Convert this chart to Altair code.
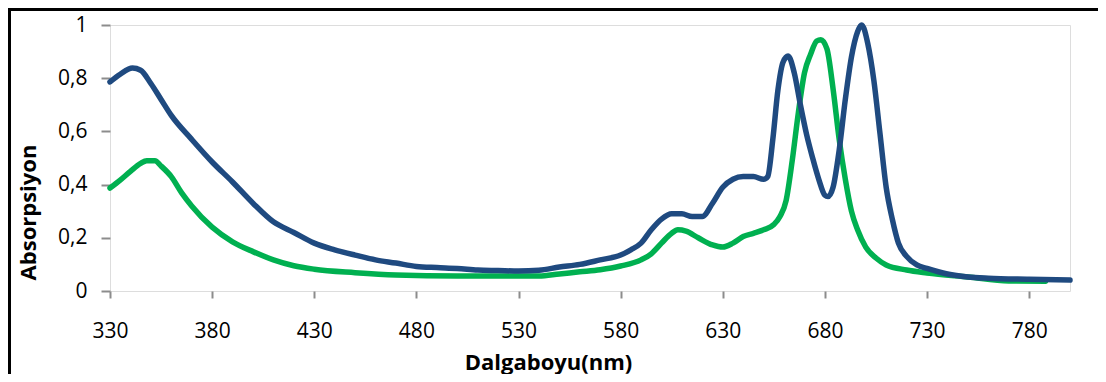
import altair as alt
import pandas as pd

# --- data ---
blue_nm = [330, 335, 341, 345, 350, 355, 360, 370, 380, 390, 400, 410, 420, 430, 440,
           450, 460, 470, 480, 490, 500, 510, 520, 530, 540, 550, 560, 570, 580, 585,
           590, 595, 600, 605, 610, 615, 620, 625, 630, 635, 640, 645, 650, 652, 654.5,
           657, 659.5, 662, 665, 668, 671, 674, 677, 680, 681.5, 684, 687, 690, 693, 696,
           698, 701, 704, 707, 710, 713, 716, 720, 725, 730, 740, 750, 760, 780, 800]
blue_abs = [0.786, 0.815, 0.838, 0.83, 0.78, 0.72, 0.66, 0.57, 0.485, 0.41, 0.33, 0.26, 0.22, 0.18, 0.155,
            0.135, 0.117, 0.105, 0.092, 0.088, 0.085, 0.079, 0.077, 0.075, 0.078, 0.09, 0.10, 0.117, 0.135, 0.155,
            0.18, 0.23, 0.27, 0.29, 0.29, 0.28, 0.28, 0.33, 0.39, 0.42, 0.43, 0.43, 0.42, 0.43, 0.57,
            0.755, 0.86, 0.883, 0.82, 0.70, 0.59, 0.50, 0.42, 0.36, 0.355, 0.39, 0.53, 0.72, 0.88, 0.975,
            1.0, 0.93, 0.79, 0.59, 0.39, 0.27, 0.18, 0.13, 0.098, 0.085, 0.064, 0.053, 0.048, 0.044, 0.041]

green_nm = [330, 335, 340, 345, 348, 352, 355, 360, 365, 370, 380, 390, 400, 410, 420,
            430, 450, 470, 500, 540, 550, 560, 570, 580, 590, 595, 600, 605, 608, 612,
            618, 625, 630, 635, 640, 645, 650, 655, 658, 661, 664, 667, 670, 673, 676,
            678, 681, 684, 687, 690, 693, 696, 700, 705, 710, 720, 730, 750, 770, 788]
green_abs = [0.387, 0.417, 0.45, 0.48, 0.49, 0.49, 0.47, 0.43, 0.37, 0.32, 0.24, 0.185, 0.148, 0.117, 0.095,
             0.082, 0.069, 0.06, 0.056, 0.056, 0.064, 0.072, 0.08, 0.094, 0.117, 0.14, 0.18, 0.217, 0.23, 0.225,
             0.2, 0.173, 0.165, 0.18, 0.205, 0.217, 0.23, 0.25, 0.28, 0.34, 0.49, 0.67, 0.82, 0.89, 0.94,
             0.945, 0.91, 0.76, 0.57, 0.42, 0.30, 0.23, 0.165, 0.124, 0.098, 0.079, 0.068, 0.053, 0.038, 0.037]

x_ticks = [330, 380, 430, 480, 530, 580, 630, 680, 730, 780]
y_ticks = [0, 0.2, 0.4, 0.6, 0.8, 1]

df = pd.concat([
    pd.DataFrame({"nm": green_nm, "abs": green_abs, "series": "green", "order": 0}),
    pd.DataFrame({"nm": blue_nm, "abs": blue_abs, "series": "blue", "order": 1}),
])

FONT = "Open Sans"

x = alt.X("nm:Q",
          scale=alt.Scale(domain=[330, 800], nice=False, zero=False),
          axis=alt.Axis(values=x_ticks, title="Dalgaboyu(nm)", grid=False, domain=False,
                        tickColor="#8c8c8c", tickWidth=2, tickSize=7,
                        labelFontSize=21, labelFont=FONT, labelColor="black", labelPadding=22,
                        labelFlush=False,
                        titleFont=FONT, titleFontSize=22, titleFontWeight="bold", titleColor="black",
                        titleX=438, titleY=78, titleBaseline="alphabetic", titleAlign="center"))
y = alt.Y("abs:Q",
          scale=alt.Scale(domain=[0, 1], nice=False),
          axis=alt.Axis(values=y_ticks, format="~g", labelExpr="replace(datum.label, '.', ',')",
                        title="Absorpsiyon", grid=False, domain=False,
                        tickColor="#8c8c8c", tickWidth=2, tickSize=9,
                        labelFontSize=21, labelFont=FONT, labelColor="black", labelPadding=14,
                        labelFlush=False,
                        titleFont=FONT, titleFontSize=22, titleFontWeight="bold", titleColor="black",
                        titleAngle=270, titleX=-82, titleY=187, titleBaseline="middle", titleAlign="center"))

lines = alt.Chart(df).mark_line(strokeWidth=5.5, interpolate="monotone", strokeCap="round").encode(
    x=x, y=y,
    color=alt.Color("series:N", scale=alt.Scale(domain=["green", "blue"], range=["#00B050", "#1F4A80"]),
                    legend=None),
    order=alt.Order("order:Q"),
    detail="series:N",
)

frame = alt.Chart(alt.Data(values=[{"a": 1}])).mark_rect(
    fill="transparent", stroke="black", strokeWidth=3, clip=False
).encode(x=alt.value(-100.5), x2=alt.value(1200), y=alt.value(-15.5), y2=alt.value(500))

chart = alt.layer(frame, lines).properties(
    width=960, height=266,
    autosize=alt.AutoSizeParams(type="none"),
    padding={"left": 102, "top": 17, "right": 28, "bottom": 83},
).configure_view(stroke="black", strokeWidth=3.5).configure(background="white")

chart.save("out.html", embed_options={"renderer": "svg", "actions": False})
